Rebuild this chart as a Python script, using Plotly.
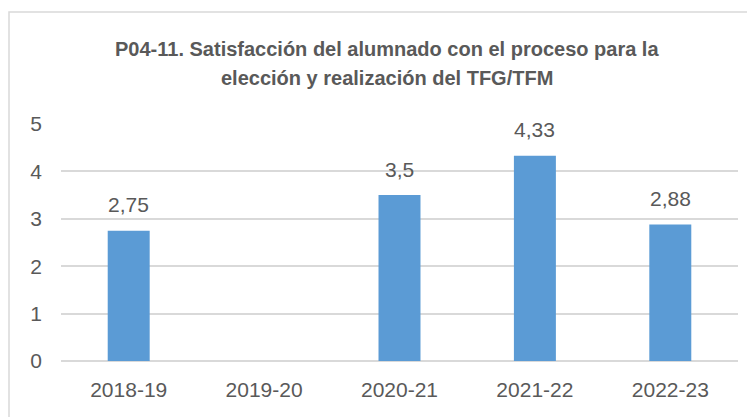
import plotly.graph_objects as go

categories = ["2018-19", "2019-20", "2020-21", "2021-22", "2022-23"]
values = [2.75, None, 3.5, 4.33, 2.88]
labels = ["2,75", "", "3,5", "4,33", "2,88"]
title_lines = ["P04-11. Satisfacción del alumnado con el proceso para la",
               "elección y realización del TFG/TFM"]

OFF = 8  # page body offset
W, H = 755 - OFF, 417 - OFF
ml, mr, mt, mb = 61 - OFF, 17, 124 - OFF, 56
pw, ph = W - ml - mr, H - mt - mb

fig = go.Figure()
fig.add_trace(go.Bar(
    x=categories, y=values,
    marker=dict(color="#5B9BD5", line=dict(width=0)),
    width=0.31,
))

annotations = []
for c, v, t in zip(categories, values, labels):
    if v is None:
        continue
    annotations.append(dict(x=c, y=v, text=t, showarrow=False, yanchor="middle",
                            yshift=26, font=dict(size=21, color="#595959",
                                                 family="Liberation Sans")))

# title lines as paper annotations (page y of cap centres: 48.5, 77)
for line, py in zip(title_lines, [49, 77.5]):
    annotations.append(dict(xref="paper", yref="paper",
                            x=(387 - 61) / pw, y=(361 - py) / ph,
                            text="<b>" + line + "</b>", showarrow=False,
                            xanchor="center", yanchor="middle",
                            font=dict(size=20, color="#595959", family="Liberation Sans")))

fig.update_layout(
    width=W, height=H,
    margin=dict(l=ml, r=mr, t=mt, b=mb, autoexpand=False),
    paper_bgcolor="white", plot_bgcolor="white",
    showlegend=False,
    font=dict(family="Liberation Sans", color="#595959", size=21),
    xaxis=dict(showgrid=False, showline=False, ticks="",
               tickfont=dict(size=21, color="#595959"), ticklabelstandoff=14),
    yaxis=dict(range=[0, 5], dtick=1, showgrid=True, gridcolor="#d9d9d9",
               gridwidth=1.5, zeroline=True, zerolinecolor="#d9d9d9", zerolinewidth=1.5,
               showline=False, ticks="", ticklabelstandoff=18,
               tickfont=dict(size=21, color="#595959")),
    annotations=annotations,
    shapes=[dict(type="rect", xref="paper", yref="paper",
                 x0=(9 - 61) / pw, x1=1.2, y0=-0.5, y1=(361 - 12) / ph,
                 line=dict(color="#d9d9d9", width=1.5), layer="below")],
)

fig.write_html("out.html")
